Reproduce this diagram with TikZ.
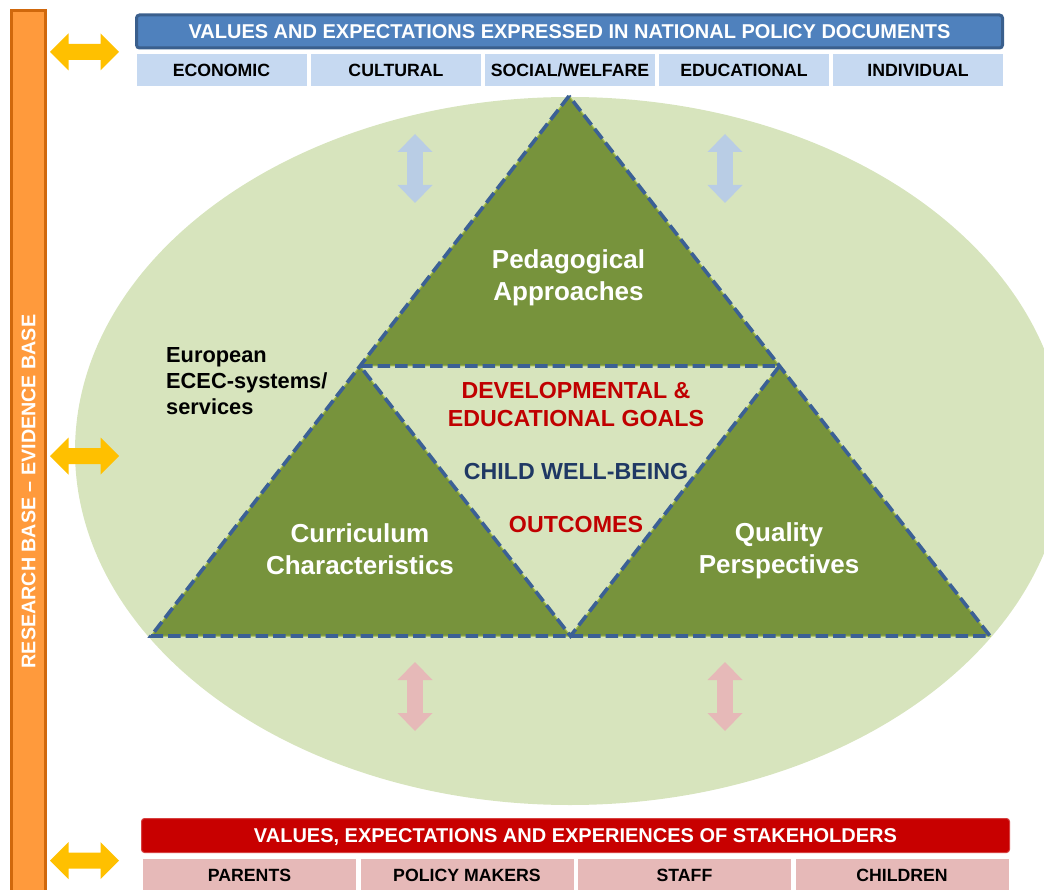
\documentclass[tikz,border=0pt]{standalone}
\usepackage{fontspec}
\setmainfont{Liberation Sans}
\usetikzlibrary{calc}
\definecolor{ellc}{HTML}{D7E4BD}
\definecolor{trig}{HTML}{77933C}
\definecolor{trigedge}{HTML}{A4BD4E}
\definecolor{dashc}{HTML}{3B6095}
\definecolor{hdrblue}{HTML}{4F81BD}
\definecolor{hdrblueb}{HTML}{3A5F8D}
\definecolor{subblue}{HTML}{C6D9F1}
\definecolor{hdrred}{HTML}{C80000}
\definecolor{subpink}{HTML}{E6B9B8}
\definecolor{orfill}{HTML}{FF9A3C}
\definecolor{orborder}{HTML}{D0680C}
\definecolor{goldc}{HTML}{FFC000}
\definecolor{lblue}{HTML}{B9CDE5}
\definecolor{lpink}{HTML}{E6B9B8}
\definecolor{navyc}{HTML}{1F3864}
\definecolor{redtxt}{HTML}{C00000}
\newcommand{\fs}[2]{\fontsize{#1}{#2}\selectfont\bfseries}
\begin{document}
\begin{tikzpicture}[x=1pt,y=-1pt,
  hdrbox/.style={minimum width=866pt,minimum height=33pt,inner sep=0pt,text=white,font=\fs{20}{22},text height=14.3pt,text depth=0pt},
  subbox/.style={minimum height=32pt,inner sep=0pt,text=black,font=\fs{17.7}{20},text height=12.7pt,text depth=0pt},
  bigtxt/.style={align=center,text=white,font=\fs{26}{32},inner sep=0pt},
  midtxt/.style={align=center,font=\fs{23.2}{28},inner sep=0pt},
  dashline/.style={draw=dashc,line width=3.6pt,dash pattern=on 12.5pt off 5pt},
  trigline/.style={draw=trigedge,line width=1pt},
  harrow/.pic={\fill[goldc] (-34.5,0) -- (-16,-18.5) -- (-16,-8) -- (16,-8) -- (16,-18.5) -- (34.5,0) -- (16,18.5) -- (16,8) -- (-16,8) -- (-16,18.5) -- cycle;},
  varrow/.pic={\path[pic actions] (0,-34.5) -- (17.5,-16.5) -- (7.8,-16.5) -- (7.8,16.5) -- (17.5,16.5) -- (0,34.5) -- (-17.5,16.5) -- (-7.8,16.5) -- (-7.8,-16.5) -- (-17.5,-16.5) -- cycle;}
]
\useasboundingbox (0,0) rectangle (1044,890);
\clip (0,0) rectangle (1044,890);

% ellipse
\fill[ellc] (570,451) ellipse [x radius=495, y radius=354];

% triangles
\coordinate (A) at (569,96);
\coordinate (B) at (151,636);
\coordinate (C) at (990,636);
\coordinate (AB) at (360,366);
\coordinate (AC) at (779.5,366);
\coordinate (BC) at (570.5,636);
\fill[trig] (A) -- (AB) -- (AC) -- cycle;
\fill[trig] (AB) -- (B) -- (BC) -- cycle;
\fill[trig] (AC) -- (BC) -- (C) -- cycle;
\draw[trigline] (A) -- (B) -- (C) -- cycle (AB) -- (AC) -- (BC) -- cycle;
\draw[dashline] (A) -- (B) -- (C) -- cycle;
\draw[dashline] (AB) -- (AC) -- (BC) -- cycle;

% orange bar
\draw[fill=orfill,draw=orborder,line width=3pt] (11.5,10.5) rectangle (45.5,900);
\node[rotate=90,text=white,font=\fs{19.7}{22},inner sep=0pt] (research) at (28.5,491.5) {RESEARCH BASE – EVIDENCE BASE};

% gold arrows
\pic at (84.5,52) {harrow};
\pic at (84.5,456) {harrow};
\pic at (84.5,860.5) {harrow};

% top header
\node[hdrbox,fill=hdrblue,draw=hdrblueb,line width=3pt,rounded corners=3pt] (tophdr) at (569.5,31.5) {VALUES AND EXPECTATIONS EXPRESSED IN NATIONAL POLICY DOCUMENTS};
\node[subbox,fill=subblue,minimum width=170pt] (econ) at (221.5,70) {ECONOMIC};
\node[subbox,fill=subblue,minimum width=170pt] (cult) at (396,70) {CULTURAL};
\node[subbox,fill=subblue,minimum width=170pt] (soc) at (570,70) {SOCIAL/WELFARE};
\node[subbox,fill=subblue,minimum width=170pt] (edu) at (744,70) {EDUCATIONAL};
\node[subbox,fill=subblue,minimum width=170pt] (indiv) at (918,70) {INDIVIDUAL};

% bottom header
\node[hdrbox,fill=hdrred,draw=hdrred!75!white,line width=1pt,rounded corners=3pt,minimum width=868pt,minimum height=34pt] (bothdr) at (575.5,835.5) {VALUES, EXPECTATIONS AND EXPERIENCES OF STAKEHOLDERS};
\node[subbox,fill=subpink,minimum width=213pt] (parents) at (249.5,875) {PARENTS};
\node[subbox,fill=subpink,minimum width=213pt] (policy) at (467,875) {POLICY MAKERS};
\node[subbox,fill=subpink,minimum width=213pt] (staff) at (684.5,875) {STAFF};
\node[subbox,fill=subpink,minimum width=213pt] (children) at (902,875) {CHILDREN};

% vertical arrows
\pic[fill=lblue] at (415,168.5) {varrow};
\pic[fill=lblue] at (725,168.5) {varrow};
\pic[fill=lpink] at (415,696.5) {varrow};
\pic[fill=lpink] at (725,696.5) {varrow};

% texts
\node[bigtxt] (ped) at (568.5,278) {Pedagogical\\Approaches};
\node[bigtxt] (curr) at (360,549.5) {Curriculum\\Characteristics};
\node[bigtxt] (qual) at (779,551) {Quality\\Perspectives};
\node[align=left,anchor=west,font=\fs{21.8}{26},inner sep=0pt] (euro) at (166,381.5) {European\\ECEC-systems/\\services};
\node[midtxt,text=redtxt] (goals) at (576,405) {DEVELOPMENTAL \&\\EDUCATIONAL GOALS};
\node[midtxt,text=navyc,anchor=base] (child) at (576,479) {CHILD WELL-BEING};
\node[midtxt,text=redtxt,anchor=base] (outc) at (576,532) {OUTCOMES};
\end{tikzpicture}
\end{document}
